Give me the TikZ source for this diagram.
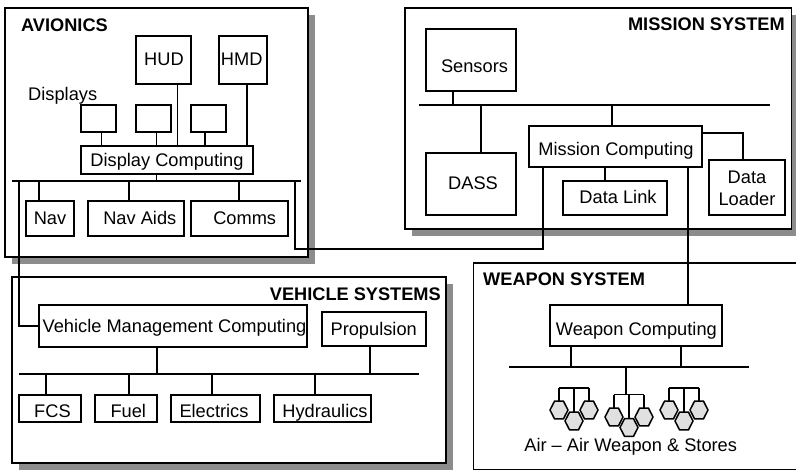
\documentclass[tikz,border=0pt]{standalone}
\usepackage{fontspec}
\setmainfont{Liberation Sans}
\usetikzlibrary{shapes.geometric,shadows}
\definecolor{shade}{HTML}{8C8C8C}
\definecolor{hexfill}{HTML}{E0E0E0}
\tikzset{
  sysbox/.style={draw=black,fill=white,line width=1.6pt,inner sep=0pt,outer sep=0pt,
    general shadow={shadow xshift=7pt,shadow yshift=-7pt,fill=shade,draw=none}},
  subbox/.style={draw=black,fill=white,line width=1.6pt,inner sep=0pt,outer sep=0pt},
  boxlabel/.style={font=\fontsize{18.25}{21.7}\selectfont,align=center,inner sep=0pt,text height=13pt,text depth=3.5pt},
  title/.style={font=\bfseries\fontsize{18.2}{21}\selectfont,inner sep=0pt},
  plain/.style={font=\fontsize{18.25}{21}\selectfont,inner sep=0pt},
  bus/.style={line width=2.2pt},
  link/.style={line width=1.7pt},
  trunk/.style={line width=2pt},
  hexa/.style={regular polygon,regular polygon sides=6,minimum size=18pt,inner sep=0pt,outer sep=0pt,
    yscale=1.13,transform shape,draw=black,fill=hexfill,line width=1.5pt},
}
% box by corners: style, name, x1, y1, x2, y2, dx, dy, text
\newcommand{\bx}[9][subbox]{%
  \pgfmathsetmacro{\bxw}{#5-#3}\pgfmathsetmacro{\bxh}{#6-#4}%
  \pgfmathsetmacro{\bxa}{(#3+#5)/2}\pgfmathsetmacro{\bxb}{(#4+#6)/2}%
  \node[#1,minimum width=\bxw pt,minimum height=\bxh pt,
    label={[boxlabel,name=#2-t,xshift=#7pt,yshift=-#8pt]center:#9}] (#2) at (\bxa,\bxb) {};}
% vertical connector between two named points at abscissa x
\newcommand{\vc}[4][link]{\draw[#1] (#2 -| #3,0) -- (#4 -| #3,0);}
\begin{document}
\begin{tikzpicture}[x=1pt,y=-1pt]
\useasboundingbox (0,0) rectangle (796,471);
\clip (0,0) rectangle (796,471);
\fill[white] (0,0) rectangle (796,471);
% system frames
\node[sysbox,minimum width=303pt,minimum height=249pt] (av) at (156.5,132.5) {};
\node[sysbox,minimum width=386.5pt,minimum height=221pt] (mi) at (598.25,118.5) {};
\node[sysbox,minimum width=434pt,minimum height=186pt] (ve) at (229,370) {};
\node[draw=black,fill=white,line width=1.6pt,inner sep=0pt,outer sep=0pt,minimum width=340pt,minimum height=206.5pt] (we) at (643.5,366.25) {};
\node[title,anchor=base west] (avt) at (21,31) {AVIONICS};
\node[title,anchor=base east] (mit) at (785,30.5) {MISSION SYSTEM};
\node[title,anchor=base east] (vet) at (441,300) {VEHICLE SYSTEMS};
\node[title,anchor=base west] (wet) at (483,285.5) {WEAPON SYSTEM};
% avionics
\bx{hud}{136}{36}{191}{84}{0.5}{1}{HUD}
\bx{hmd}{219}{36}{267}{84}{-1.3}{1}{HMD}
\bx{d1}{81}{105}{116}{132}{0}{0}{}
\bx{d2}{136}{105}{171}{132}{0}{0}{}
\bx{d3}{191}{105}{226}{132}{0}{0}{}
\bx{dc}{81}{146}{253}{174}{0}{1.4}{Display Computing}
\bx{nav}{26}{201}{74}{236}{0}{1.2}{Nav}
\bx{aids}{88}{201}{184}{236}{3.8}{1.2}{Nav Aids}
\bx{comms}{191}{201}{288}{236}{5.2}{1.2}{Comms}
\node[plain,anchor=base west] (disp) at (28,100) {Displays};
\coordinate (avl) at (12,181);
\coordinate (avr) at (301,181);
\draw[bus] (avl) -- (avr);
\vc{d1.south}{101.5}{dc.north}
\vc{d2.south}{156.5}{dc.north}
\vc{d3.south}{205}{dc.north}
\vc{hud.south}{177.5}{dc.north}
\vc{hmd.south}{246.7}{dc.north}
\vc{dc.south}{156.5}{avl}
\vc{nav.north}{39}{avl}
\vc{aids.north}{129}{avl}
\vc{comms.north}{239}{avl}
% mission
\bx{sens}{426}{29}{516}{91}{3.5}{7.5}{Sensors}
\bx{dass}{426}{153}{516}{215}{2}{0.4}{DASS}
\bx{mc}{529}{126}{702}{167}{0.5}{4.7}{Mission Computing}
\bx{dl}{563}{181}{667}{215}{3}{0.4}{Data Link}
\bx{load}{709}{160}{785}{215}{0}{13}{Data\\Loader}
\coordinate (mil) at (419,105);
\coordinate (mir) at (770,105);
\draw[bus] (mil) -- (mir);
\vc[trunk]{sens.south}{453}{mil}
\vc[trunk]{mil}{481}{dass.north}
\vc[trunk]{mil}{612}{mc.north}
\vc[trunk]{mc.south}{605}{dl.north}
\draw[trunk] (mc.east |- 0,133) -| (load.north -| 743,0);
% vehicle
\bx{vmc}{39}{305}{307}{347}{1.5}{2}{Vehicle Management Computing}
\bx{prop}{322}{312}{426}{346}{-0.3}{1.4}{Propulsion}
\bx{fcs}{19}{395}{81}{422}{2.5}{4.2}{FCS}
\bx{fuel}{95}{395}{157}{422}{2.3}{4.2}{Fuel}
\bx{elec}{171}{395}{260}{422}{-1.5}{4.2}{Electrics}
\bx{hyd}{274}{395}{371}{422}{2.5}{4.2}{Hydraulics}
\coordinate (vel) at (19,374);
\coordinate (ver) at (419,374);
\draw[bus] (vel) -- (ver);
\vc[trunk]{vmc.south}{157}{vel}
\vc[trunk]{prop.south}{370}{vel}
\vc[trunk]{vel}{46}{fcs.north}
\vc[trunk]{vel}{129}{fuel.north}
\vc[trunk]{vel}{212}{elec.north}
\vc[trunk]{vel}{315}{hyd.north}
% weapon
\bx{wc}{549.7}{305}{722}{346}{0.5}{5}{Weapon Computing}
\coordinate (wel) at (509,367);
\coordinate (wer) at (749,367);
\draw[bus] (wel) -- (wer);
\vc[trunk]{wc.south}{570.5}{wel}
\vc[trunk]{wc.south}{681}{wel}
\coordinate (r1) at (574,388);
\coordinate (r2) at (629,394.5);
\coordinate (r3) at (684,388);
\draw[link] (559,410 |- r1) -- (589,410 |- r1);
\draw[link] (614,410 |- r2) -- (644,410 |- r2);
\draw[link] (669,410 |- r3) -- (699,410 |- r3);
\vc[trunk]{wel}{625.5}{r2}
\foreach \n/\x/\y/\r in {a/559/410/r1,b/589/410/r1,c/574/421/r1,
                         d/614/417/r2,e/644/417/r2,f/629/427.5/r2,
                         g/669/410/r3,h/699/410/r3,i/684/421/r3}{
  \draw[link] (\x,\y) -- (\x,0 |- \r);
  \node[hexa] (\n) at (\x,\y) {};
}
\node[plain,anchor=base] (stores) at (630.7,451) {Air – Air Weapon \& Stores};
% links between systems
\draw[trunk] (avl -| 19,0) |- (vmc.west);
\draw[trunk] (avr -| 295,0) |- (543,249) -- (mc.south -| 543,0);
\draw[trunk] (mc.south -| 688,0) -- (wc.north -| 688,0);
\end{tikzpicture}
\end{document}
